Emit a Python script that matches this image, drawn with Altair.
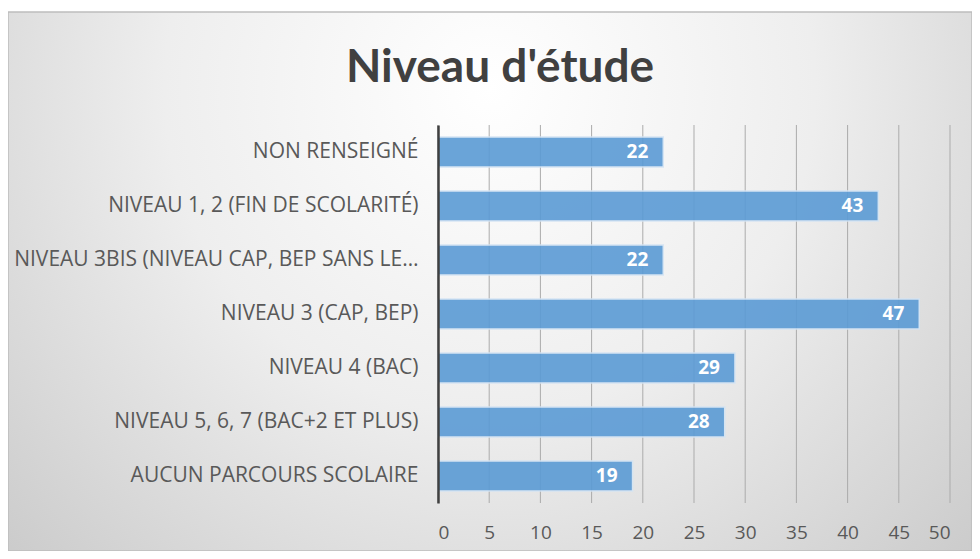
import altair as alt
import pandas as pd

categories = [
    "NON RENSEIGNÉ",
    "NIVEAU 1, 2 (FIN DE SCOLARITÉ)",
    "NIVEAU 3BIS (NIVEAU CAP, BEP SANS LE…",
    "NIVEAU 3 (CAP, BEP)",
    "NIVEAU 4 (BAC)",
    "NIVEAU 5, 6, 7 (BAC+2 ET PLUS)",
    "AUCUN PARCOURS SCOLAIRE",
]
values = [22, 43, 22, 47, 29, 28, 19]
x_ticks = [0, 5, 10, 15, 20, 25, 30, 35, 40, 45, 50]
title_text = "Niveau d'étude"

FONT = "Open Sans"
TFONT = "Lato"
W, H = 512, 378
PAD_L, PAD_T = 430, 117
TOTAL_W, TOTAL_H = 964, 543

df = pd.DataFrame({"cat": categories, "val": values})
ticks_df = pd.DataFrame({"t": x_ticks})

xscale = alt.Scale(domain=[0, 50], nice=False, zero=True)
yscale = alt.Scale(domain=categories, paddingInner=0.44, paddingOuter=0.22)

bg = alt.Chart(alt.Data(values=[{"a": 1}])).mark_rect(
    color=alt.Gradient(
        gradient="radial",
        x1=0.5, y1=0.3, r1=0.0,
        x2=0.5, y2=0.3, r2=0.75,
        stops=[
            alt.GradientStop(color="#ffffff", offset=0),
            alt.GradientStop(color="#eeeeee", offset=0.45),
            alt.GradientStop(color="#c6c6c6", offset=1),
        ],
    ),
    stroke="#bdbdbd",
    strokeWidth=1.5,
).encode(
    x=alt.value(-PAD_L),
    x2=alt.value(TOTAL_W - PAD_L),
    y=alt.value(4 - PAD_T),
    y2=alt.value(TOTAL_H - PAD_T),
)

title = alt.Chart(alt.Data(values=[{"t": title_text}])).mark_text(
    font=TFONT, fontSize=46, fontWeight="bold", color="#404040",
    align="center", baseline="middle",
).encode(
    text="t:N",
    x=alt.value(500 - 8 - PAD_L),
    y=alt.value(68 - 8 - PAD_T),
)

grid = alt.Chart(ticks_df).mark_rule(color="#ababab", strokeWidth=1).encode(
    x=alt.X("t:Q", scale=xscale),
    y=alt.value(0),
    y2=alt.value(H),
)

bars = alt.Chart(df).mark_bar(
    color="#5b9bd5", opacity=0.9, stroke="#d3e4f4", strokeWidth=1.5,
).encode(
    x=alt.X("val:Q", scale=xscale,
            axis=alt.Axis(values=x_ticks, grid=False, domain=False, ticks=False,
                          labelFont=FONT, labelFontSize=19, labelColor="#595959",
                          labelPadding=20, title=None, zindex=1)),
    y=alt.Y("cat:N", scale=yscale, sort=categories,
            axis=alt.Axis(grid=False, ticks=False, domain=True, domainColor="#404040",
                          domainWidth=2.5, labelFont=FONT, labelFontSize=21,
                          labelColor="#595959", labelPadding=20, labelLimit=0,
                          title=None, zindex=1)),
)

labels = alt.Chart(df).mark_text(
    font=FONT, fontSize=19, fontWeight="bold", color="white",
    align="right", baseline="middle", dx=-15,
).encode(
    x=alt.X("val:Q", scale=xscale),
    y=alt.Y("cat:N", scale=yscale, sort=categories),
    text="val:Q",
)

chart = alt.layer(bg, title, grid, bars, labels).properties(
    width=W, height=H,
    autosize=alt.AutoSizeParams(type="none"),
    padding={"left": PAD_L, "top": PAD_T, "right": TOTAL_W - PAD_L - W,
             "bottom": TOTAL_H - PAD_T - H},
).configure_view(stroke=None).configure(background="white")

chart.save("out.html", embed_options={"renderer": "svg", "actions": False})
